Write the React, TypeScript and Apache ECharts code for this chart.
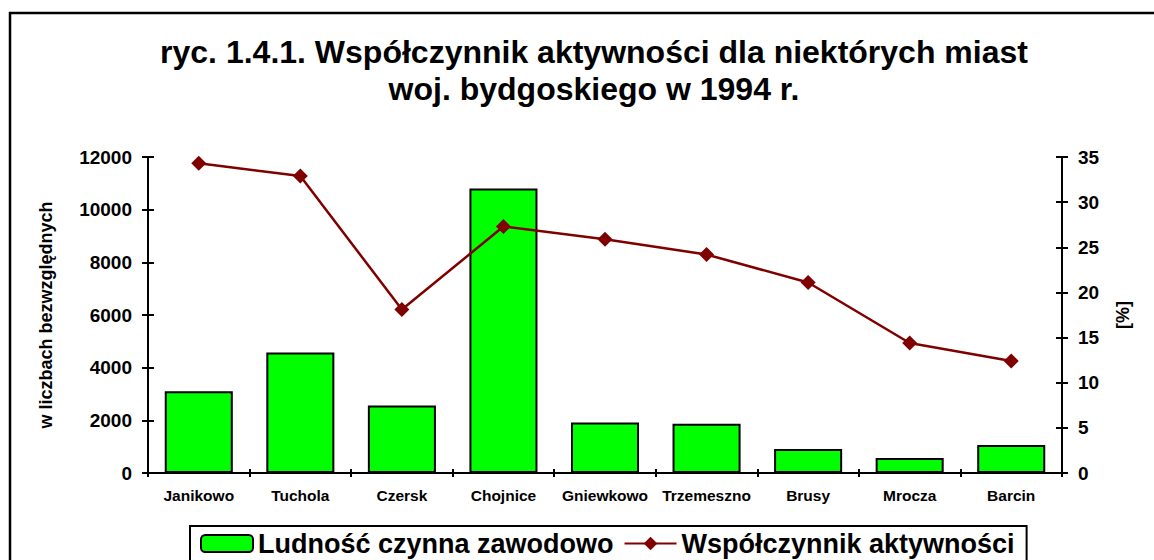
import React, { useEffect, useRef } from "react";
import * as echarts from "echarts";

const categories = ["Janikowo", "Tuchola", "Czersk", "Chojnice", "Gniewkowo", "Trzemeszno", "Brusy", "Mrocza", "Barcin"];
const ludnosc = [3100, 4580, 2560, 10800, 1920, 1870, 910, 570, 1060];
const wspolczynnik = [34.3, 32.9, 18.1, 27.3, 25.9, 24.2, 21.1, 14.4, 12.4];
const titleLines = ["ryc. 1.4.1. Współczynnik aktywności dla niektórych miast", "woj. bydgoskiego w 1994 r."];
const barName = "Ludność czynna zawodowo";
const lineName = "Współczynnik aktywności";
const leftAxisName = "w liczbach bezwzględnych";
const rightAxisName = "[%]";

const FONT = "'Liberation Sans', Arial, sans-serif";

export default function App() {
  const ref = useRef<HTMLDivElement>(null);
  useEffect(() => {
    document.body.style.margin = "0";
    const chart = echarts.init(ref.current!, null, { renderer: "svg" });
    const axisLine = { show: true, lineStyle: { color: "#000", width: 2 } };
    const plain = (v: number) => String(v);
    chart.setOption({
      animation: false,
      backgroundColor: "#fff",
      textStyle: { fontFamily: FONT },
      title: {
        text: titleLines.join("\n"),
        left: 589,
        top: 28,
        textAlign: "center",
        textStyle: { fontFamily: FONT, fontSize: 32, fontWeight: "bold", color: "#000", lineHeight: 37 },
      },
      graphic: [
        {
          type: "rect",
          shape: { x: 10, y: 13, width: 1200, height: 600 },
          style: { fill: "none", stroke: "#000", lineWidth: 2.5 },
          silent: true,
          z: 100,
        },
      ],
      legend: {
        left: 190,
        top: 526,
        padding: [4, 12, 30, 10],
        borderColor: "#000",
        borderWidth: 2,
        itemWidth: 52,
        itemHeight: 17,
        itemGap: 10,
        textStyle: { fontFamily: FONT, fontSize: 27, fontWeight: "bold", color: "#000" },
        data: [barName, lineName],
      },
      grid: { left: 148, right: 92, top: 157, bottom: 87, containLabel: false },
      xAxis: [
        {
          type: "category",
          data: categories,
          axisLine,
          axisTick: { show: true, alignWithLabel: false, length: 4, lineStyle: { color: "#000", width: 2 } },
          axisLabel: { fontFamily: FONT, fontSize: 15.5, fontWeight: "bold", color: "#000", margin: 14, interval: 0 },
        },
        {
          type: "category",
          data: categories,
          position: "bottom",
          axisLine: { show: false },
          axisTick: { show: true, inside: true, length: 4, lineStyle: { color: "#000", width: 2 } },
          axisLabel: { show: false },
        },
      ],
      yAxis: [
        {
          type: "value",
          position: "left",
          min: 0,
          max: 12000,
          interval: 2000,
          axisLine,
          axisTick: { show: true, length: 6, lineStyle: { color: "#000", width: 2 } },
          axisLabel: { fontFamily: FONT, fontSize: 19, fontWeight: "bold", color: "#000", margin: 16, formatter: plain },
          splitLine: { show: false },
          name: leftAxisName,
          nameLocation: "middle",
          nameRotate: 90,
          nameGap: 93,
          nameTextStyle: { fontFamily: FONT, fontSize: 18, fontWeight: "bold", color: "#000" },
        },
        {
          type: "value",
          position: "right",
          min: 0,
          max: 35,
          interval: 5,
          axisLine,
          axisTick: { show: true, length: 6, lineStyle: { color: "#000", width: 2 } },
          axisLabel: { fontFamily: FONT, fontSize: 19, fontWeight: "bold", color: "#000", margin: 16, formatter: plain },
          splitLine: { show: false },
          name: rightAxisName,
          nameLocation: "middle",
          nameRotate: 90,
          nameGap: 52,
          nameTextStyle: { fontFamily: FONT, fontSize: 18, fontWeight: "bold", color: "#000" },
        },
        {
          type: "value",
          position: "left",
          min: 0,
          max: 12000,
          interval: 2000,
          axisLine: { show: false },
          axisTick: { show: true, inside: true, length: 6, lineStyle: { color: "#000", width: 2 } },
          axisLabel: { show: false },
          splitLine: { show: false },
        },
        {
          type: "value",
          position: "right",
          min: 0,
          max: 35,
          interval: 5,
          axisLine: { show: false },
          axisTick: { show: true, inside: true, length: 6, lineStyle: { color: "#000", width: 2 } },
          axisLabel: { show: false },
          splitLine: { show: false },
        },
      ],
      series: [
        {
          name: barName,
          type: "bar",
          xAxisIndex: 0,
          yAxisIndex: 0,
          data: ludnosc,
          barCategoryGap: "33%",
          itemStyle: { color: "#00ff00", borderColor: "#000", borderWidth: 2 },
        },
        {
          name: lineName,
          type: "line",
          xAxisIndex: 0,
          yAxisIndex: 1,
          data: wspolczynnik,
          symbol: "diamond",
          symbolSize: 15,
          lineStyle: { color: "#800000", width: 2.5 },
          itemStyle: { color: "#800000" },
          z: 5,
        },
      ],
    });
    return () => chart.dispose();
  }, []);
  return <div ref={ref} style={{ width: 1154, height: 560 }} />;
}
